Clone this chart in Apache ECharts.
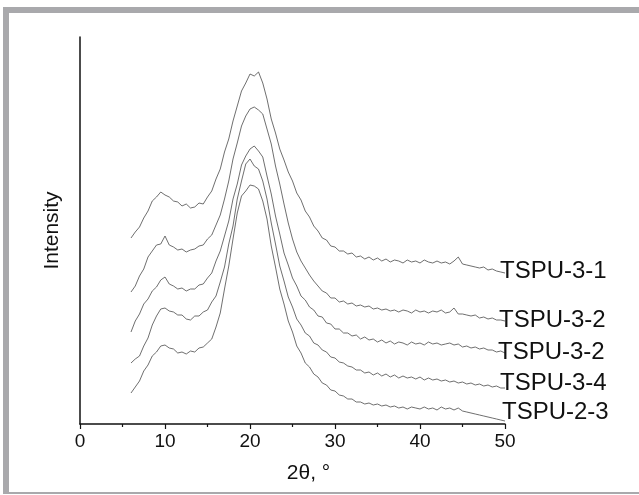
<!DOCTYPE html>
<html>
<head>
<meta charset="utf-8">
<script src="https://cdn.jsdelivr.net/npm/echarts@6/dist/echarts.min.js"></script>
<style>
html,body{margin:0;padding:0;background:#fff;}
#chart{width:639px;height:495px;}
</style>
</head>
<body>
<div id="chart"></div>
<script>
// 2θ values (degrees)
var twoTheta = [
  6,6.5,7,7.5,8,8.5,9,9.5,10,10.5,
  11,11.5,12,12.5,13,13.5,14,14.5,15,15.5,
  16,16.5,17,17.5,18,18.5,19,19.5,20,20.5,
  21,21.5,22,22.5,23,23.5,24,24.5,25,25.5,
  26,26.5,27,27.5,28,28.5,29,29.5,30,30.5,
  31,31.5,32,32.5,33,33.5,34,34.5,35,35.5,
  36,36.5,37,37.5,38,38.5,39,39.5,40,40.5,
  41,41.5,42,42.5,43,43.5,44,44.5,45,45.5,
  46,46.5,47,47.5,48,48.5,49,49.5,50
];
var seriesNames = ['TSPU-3-1','TSPU-3-2','TSPU-3-2','TSPU-3-4','TSPU-2-3'];
var tspu31 = [
  186,192,197,206,213,223,227,232,229,227,
  223,222,218,220,216,217,221,220,227,233,
  245,255,272,285,303,318,333,341,350,348,
  352,341,325,305,291,275,264,252,243,231,
  224,213,207,198,193,186,184,178,177,173,
  173,170,171,167,168,165,167,164,166,163,
  165,162,164,163,161,164,162,163,161,164,
  162,161,163,161,162,160,163,167,160,159,
  158,157,156,157,154,155,153,152,151
];
var tspu32a = [
  132,138,148,155,167,173,179,180,188,179,
  177,174,175,172,174,175,178,179,185,189,
  199,209,225,243,265,281,298,308,315,317,
  314,310,295,280,258,240,220,201,185,172,
  163,156,149,143,138,133,131,126,126,122,
  123,120,121,118,119,117,118,115,116,114,
  115,113,114,112,114,113,111,114,112,113,
  111,113,112,114,111,112,116,110,110,109,
  108,109,106,107,105,106,104,104,103
];
var tspu32b = [
  92,103,110,120,125,133,137,144,147,140,
  138,135,136,133,135,135,139,140,146,151,
  163,173,188,203,225,240,259,268,275,278,
  273,267,248,230,208,190,171,159,146,138,
  128,124,117,114,108,107,101,100,95,95,
  91,91,88,89,85,87,84,85,82,84,
  81,83,80,82,81,79,82,80,81,79,
  82,80,81,79,80,81,79,80,77,78,
  76,77,75,76,74,74,72,73,71
];
var tspu34 = [
  61,65,68,78,86,99,108,115,116,113,
  112,109,109,105,104,108,108,112,114,122,
  128,142,157,180,198,225,243,260,265,258,
  255,243,225,201,180,158,143,127,117,105,
  99,91,88,81,79,74,72,67,66,62,
  61,58,57,54,54,51,52,49,51,48,
  50,47,49,46,48,46,47,45,47,44,
  46,44,45,43,44,42,43,41,42,40,
  41,39,40,38,39,37,38,36,36
];
var tspu23 = [
  31,37,43,53,59,68,72,78,79,76,
  75,71,72,70,73,72,76,77,81,85,
  97,111,135,158,185,211,228,233,239,238,
  235,223,205,178,157,135,120,103,92,78,
  71,61,57,50,47,41,39,34,33,29,
  28,25,25,22,22,20,21,19,20,18,
  19,17,18,16,17,15,17,16,15,17,
  15,16,14,17,15,16,14,16,13,12,
  11,10,9,8,7,6,5,4,3
];
var xTicks = [0,10,20,30,40,50];

var allSeries = [tspu31, tspu32a, tspu32b, tspu34, tspu23];
var labelOffsets = [[-5,-2],[-6,-1],[-7,-1],[-5,-5],[-3,-9]];

var chart = echarts.init(document.getElementById('chart'), null, {renderer:'canvas'});
var series = allSeries.map(function(vals, i){
  return {
    type:'line',
    name: seriesNames[i],
    data: twoTheta.map(function(t, j){ return [t, vals[j]]; }),
    showSymbol:false,
    symbol:'none',
    lineStyle:{color:'#555', width:0.85},
    animation:false,
    endLabel:{
      show:true,
      formatter: seriesNames[i],
      color:'#111',
      fontSize:24,
      fontFamily:'Liberation Sans, Arial, sans-serif',
      distance:0,
      offset: labelOffsets[i]
    }
  };
});

chart.setOption({
  animation:false,
  backgroundColor:'#fff',
  grid:{left:80, right:134, top:37, bottom:71},
  xAxis:{
    type:'value', min:0, max:50, interval:10,
    name:'2θ, °', nameLocation:'middle', nameGap:39,
    nameTextStyle:{color:'#111', fontSize:21, fontFamily:'Liberation Sans, Arial, sans-serif', padding:[0,0,0,32]},
    axisLine:{show:true, lineStyle:{color:'#111', width:1.5}},
    axisTick:{show:true, inside:false, length:5, lineStyle:{color:'#111', width:1.2}},
    minorTick:{show:true, splitNumber:2, length:3, lineStyle:{color:'#111', width:1.2}},
    axisLabel:{color:'#111', fontSize:19, margin:8, fontFamily:'Liberation Sans, Arial, sans-serif',
      formatter:function(v){ return xTicks.indexOf(v) >= 0 ? String(v) : ''; }},
    splitLine:{show:false}
  },
  yAxis:{
    type:'value', min:0, max:387,
    name:'Intensity', nameLocation:'middle', nameGap:17, nameRotate:90,
    nameTextStyle:{color:'#111', fontSize:21, fontFamily:'Liberation Sans, Arial, sans-serif'},
    axisLine:{show:true, lineStyle:{color:'#111', width:1.5}},
    axisTick:{show:false},
    axisLabel:{show:false},
    splitLine:{show:false}
  },
  graphic:[
    {type:'rect', shape:{x:3, y:7, width:636, height:6}, style:{fill:'#a9a9ac'}, silent:true},
    {type:'rect', shape:{x:3, y:7, width:6, height:487}, style:{fill:'#a9a9ac'}, silent:true},
    {type:'rect', shape:{x:3, y:492, width:636, height:2}, style:{fill:'#a9a9ac'}, silent:true}
  ],
  series:series
});
</script>
</body>
</html>
